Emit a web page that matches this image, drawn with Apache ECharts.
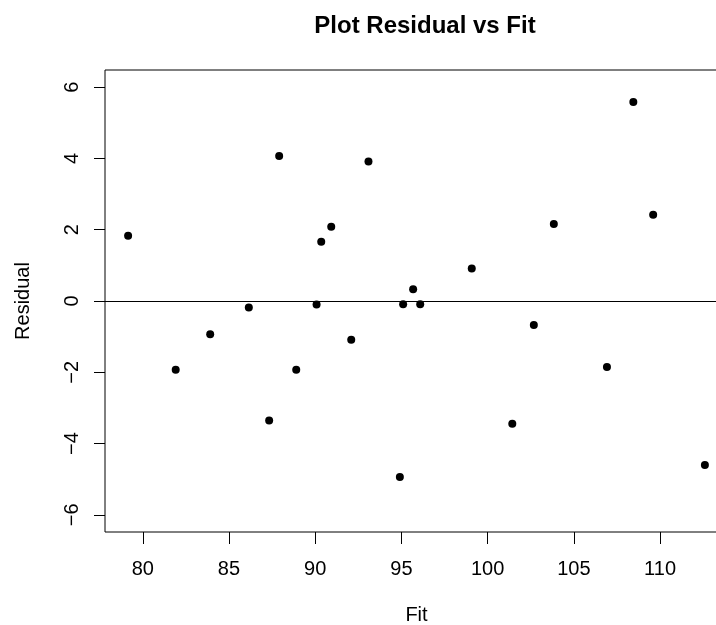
<!DOCTYPE html>
<html>
<head>
<meta charset="utf-8">
<title>Plot Residual vs Fit</title>
<script src="https://cdn.jsdelivr.net/npm/echarts@6/dist/echarts.min.js"></script>
<style>
  html, body { margin: 0; padding: 0; background: #fff; }
  #chart { width: 716px; height: 625px; }
</style>
</head>
<body>
<div id="chart"></div>
<script>
// values
const fitVals = [79.15, 81.91, 83.91, 86.15, 87.33, 87.91, 88.90, 90.08, 90.35, 90.93, 92.09, 93.09,
  94.91, 95.10, 95.68, 96.09, 99.08, 101.43, 102.68, 103.84, 106.92, 108.45, 109.60, 112.60]
const residVals = [1.83, -1.93, -0.93, -0.18, -3.35, 4.07, -1.93, -0.10, 1.66, 2.08, -1.09, 3.91,
  -4.94, -0.09, 0.33, -0.09, 0.91, -3.44, -0.67, 2.16, -1.85, 5.58, 2.42, -4.60]
const xTicks = [80, 85, 90, 95, 100, 105, 110]
const yTicks = [-6, -4, -2, 0, 2, 4, 6]

const font = '"Liberation Sans", Arial, Helvetica, sans-serif'

const chart = echarts.init(document.getElementById('chart'))

chart.setOption({
  animation: false,
  backgroundColor: '#fff',
  title: {
    text: 'Plot Residual vs Fit',
    left: 420,
    top: 9,
    textAlign: 'center',
    textStyle: {
      fontFamily: font,
      fontSize: 24,
      fontWeight: 'bold',
      color: '#000'
    }
  },
  grid: {
    left: 105,
    right: -12,
    top: 70,
    bottom: 93,
    containLabel: false,
    outerBoundsMode: 'none',
    show: true,
    borderColor: '#000',
    borderWidth: 1,
    backgroundColor: 'transparent'
  },
  xAxis: {
    type: 'value',
    min: 77.81,
    max: 113.94,
    name: 'Fit',
    nameLocation: 'middle',
    nameGap: 73,
    nameTextStyle: { fontFamily: font, fontSize: 20, color: '#000' },
    axisLine: { show: false, onZero: false },
    axisTick: {
      show: true,
      length: 12,
      customValues: xTicks,
      lineStyle: { color: '#000', width: 1 }
    },
    axisLabel: {
      customValues: xTicks,
      margin: 27,
      fontFamily: font,
      fontSize: 20,
      color: '#000'
    },
    splitLine: { show: false }
  },
  yAxis: {
    type: 'value',
    min: -6.48,
    max: 6.48,
    name: 'Residual',
    nameLocation: 'middle',
    nameGap: 72,
    nameTextStyle: { fontFamily: font, fontSize: 20, color: '#000' },
    axisLine: { show: false, onZero: false },
    axisTick: {
      show: true,
      length: 11,
      customValues: yTicks,
      lineStyle: { color: '#000', width: 1 }
    },
    axisLabel: {
      customValues: yTicks,
      rotate: 90,
      margin: 23,
      fontFamily: font,
      fontSize: 20,
      color: '#000',
      formatter: v => String(v).replace('-', '\u2212')
    },
    splitLine: { show: false }
  },
  series: [{
    type: 'scatter',
    symbol: 'circle',
    symbolSize: 8,
    itemStyle: { color: '#000', opacity: 1 },
    data: fitVals.map((f, i) => [f, residVals[i]]),
    markLine: {
      silent: true,
      symbol: ['none', 'none'],
      label: { show: false },
      lineStyle: { color: '#000', width: 1, type: 'solid' },
      data: [{ yAxis: 0 }]
    }
  }]
})
</script>
</body>
</html>
